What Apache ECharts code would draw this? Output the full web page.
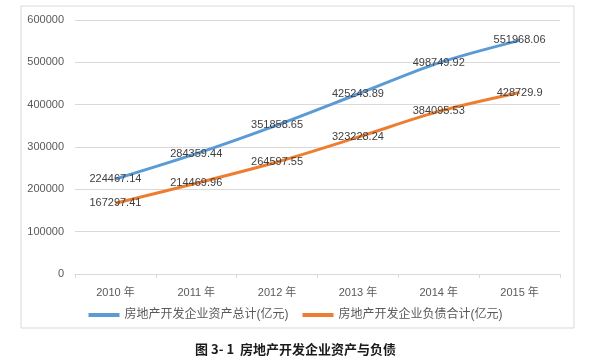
<!DOCTYPE html>
<html><head><meta charset="utf-8">
<script src="https://cdn.jsdelivr.net/npm/echarts@6/dist/echarts.min.js"></script>
<style>html,body{margin:0;padding:0;background:#fff}#c{width:591px;height:363px}</style>
</head><body><div id="c"></div>
<script>
const categories = ['2010 年','2011 年','2012 年','2013 年','2014 年','2015 年'];
const assetName = '房地产开发企业资产总计(亿元)';
const debtName = '房地产开发企业负债合计(亿元)';
const assets = [224467.14, 284359.44, 351858.65, 425243.89, 498749.92, 551968.06];
const debts = [167297.41, 214469.96, 264597.55, 323228.24, 384095.53, 428729.9];
const caption = '图 3- 1  房地产开发企业资产与负债';

const font = '"Liberation Sans","Noto Sans CJK SC",sans-serif';
const chart = echarts.init(document.getElementById('c'), null, {renderer:'canvas'});
const lbl = {show:true, position:'inside', color:'#404040', fontSize:11, fontFamily:font, offset:[0,1]};
chart.setOption({
  animation:false,
  graphic:[
    {type:'rect', shape:{x:21,y:6,width:553,height:322}, style:{fill:'none', stroke:'#d9d9d9', lineWidth:1}},
    {type:'text', left:'center', top:343, style:{text:caption, font:'bold 13px "Noto Sans CJK SC",sans-serif', fill:'#1a1a1a'}}
  ],
  grid:{left:75, right:31, top:20, bottom:89, containLabel:false},
  legend:{
    bottom:37, left:'center', itemWidth:31, itemHeight:4, itemGap:14,
    textStyle:{color:'#595959', fontSize:12, fontFamily:font},
    data:[{name:assetName, icon:'rect'},{name:debtName, icon:'rect'}]
  },
  xAxis:{
    type:'category', data:categories, boundaryGap:true,
    axisLine:{lineStyle:{color:'#d9d9d9', width:1}},
    axisTick:{show:true, length:4, lineStyle:{color:'#d9d9d9'}},
    axisLabel:{color:'#595959', fontSize:11, fontFamily:font, margin:13}
  },
  yAxis:{
    type:'value', min:0, max:600000, interval:100000,
    axisLine:{show:false}, axisTick:{show:false},
    splitLine:{lineStyle:{color:'#d9d9d9', width:1}},
    axisLabel:{color:'#595959', fontSize:11, fontFamily:font, margin:11, formatter:v=>String(v)}
  },
  series:[
    {name:assetName, type:'line', data:assets, smooth:0.3, symbol:'circle', symbolSize:0.1, showSymbol:true,
     lineStyle:{color:'#5b9bd5', width:3}, itemStyle:{color:'#5b9bd5'}, label:lbl, labelLayout:{hideOverlap:false}},
    {name:debtName, type:'line', data:debts, smooth:0.3, symbol:'circle', symbolSize:0.1, showSymbol:true,
     lineStyle:{color:'#ed7d31', width:3}, itemStyle:{color:'#ed7d31'}, label:lbl, labelLayout:{hideOverlap:false}}
  ]
});
</script></body></html>
